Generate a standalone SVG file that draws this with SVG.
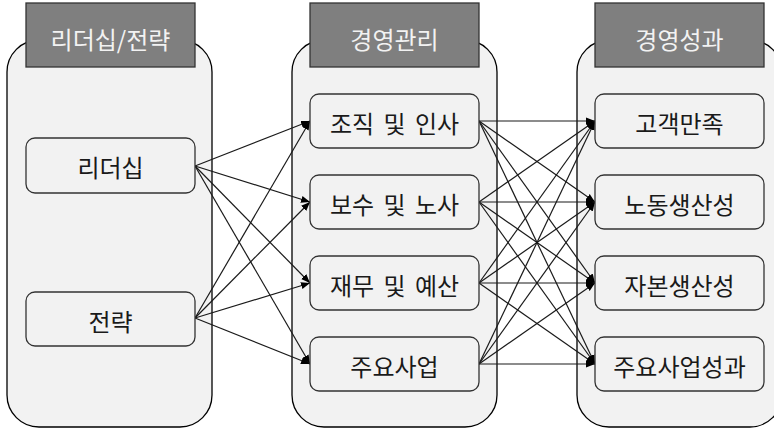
<svg xmlns="http://www.w3.org/2000/svg" width="774" height="430" viewBox="0 0 774 430">
<defs>
<marker id="ah" viewBox="0 0 10 10" refX="10" refY="5" markerWidth="9" markerHeight="9" markerUnits="userSpaceOnUse" orient="auto">
<path d="M0,1 L10,5 L0,9 z" fill="#000"/>
</marker>
<style>
.cont{fill:#f2f2f2;stroke:#000;stroke-width:1.3}
.hdr{fill:#7f7f7f;stroke:#333;stroke-width:1.3}
.htxt{font-family:"Noto Sans CJK KR","Noto Sans",sans-serif;font-size:24px;fill:#f2f2f2;text-anchor:middle;dominant-baseline:central}
.node{fill:#f2f2f2;stroke:#333;stroke-width:1.3}
.ntxt{font-family:"Noto Sans CJK KR","Noto Sans",sans-serif;font-size:24px;fill:#1a1a1a;text-anchor:middle;dominant-baseline:central;word-spacing:4px}
.edge{stroke:#1a1a1a;stroke-width:1.2;fill:none;marker-end:url(#ah)}
</style>
</defs>
<g id="col-left">
<rect class="cont" x="7" y="40" width="205" height="387" rx="32"/>
<rect class="hdr" x="26" y="3" width="169" height="64"/>
<text class="htxt" x="110.5" y="38">리더십/전략</text>
</g>
<g id="col-mid">
<rect class="cont" x="292" y="40" width="205" height="387" rx="32"/>
<rect class="hdr" x="310" y="3" width="169" height="64"/>
<text class="htxt" x="394.5" y="38">경영관리</text>
</g>
<g id="col-right">
<rect class="cont" x="577" y="40" width="205" height="387" rx="32"/>
<rect class="hdr" x="595" y="3" width="169" height="64"/>
<text class="htxt" x="679.5" y="38">경영성과</text>
</g>
<g id="connectors">
<path class="edge" d="M195,166 L310,121"/>
<path class="edge" d="M195,166 L310,202"/>
<path class="edge" d="M195,166 L310,283"/>
<path class="edge" d="M195,166 L310,364"/>
<path class="edge" d="M195,318 L310,121"/>
<path class="edge" d="M195,318 L310,202"/>
<path class="edge" d="M195,318 L310,283"/>
<path class="edge" d="M195,318 L310,364"/>
<path class="edge" d="M479,121 L595,121"/>
<path class="edge" d="M479,121 L595,202"/>
<path class="edge" d="M479,121 L595,283"/>
<path class="edge" d="M479,121 L595,364"/>
<path class="edge" d="M479,202 L595,121"/>
<path class="edge" d="M479,202 L595,202"/>
<path class="edge" d="M479,202 L595,283"/>
<path class="edge" d="M479,202 L595,364"/>
<path class="edge" d="M479,283 L595,121"/>
<path class="edge" d="M479,283 L595,202"/>
<path class="edge" d="M479,283 L595,283"/>
<path class="edge" d="M479,283 L595,364"/>
<path class="edge" d="M479,364 L595,121"/>
<path class="edge" d="M479,364 L595,202"/>
<path class="edge" d="M479,364 L595,283"/>
<path class="edge" d="M479,364 L595,364"/>
</g>
<g id="n-leadership"><rect class="node" x="26" y="138" width="169" height="55" rx="9"/><text class="ntxt" x="110.5" y="166">리더십</text></g>
<g id="n-strategy"><rect class="node" x="26" y="292" width="169" height="54" rx="9"/><text class="ntxt" x="110.5" y="320">전략</text></g>
<g id="n-org"><rect class="node" x="310" y="94" width="169" height="54" rx="9"/><text class="ntxt" x="394.5" y="122">조직 및 인사</text></g>
<g id="n-pay"><rect class="node" x="310" y="175" width="169" height="54" rx="9"/><text class="ntxt" x="394.5" y="203">보수 및 노사</text></g>
<g id="n-fin"><rect class="node" x="310" y="256" width="169" height="54" rx="9"/><text class="ntxt" x="394.5" y="284">재무 및 예산</text></g>
<g id="n-biz"><rect class="node" x="310" y="337" width="169" height="54" rx="9"/><text class="ntxt" x="394.5" y="365">주요사업</text></g>
<g id="n-cs"><rect class="node" x="595" y="94" width="169" height="54" rx="9"/><text class="ntxt" x="679.5" y="122">고객만족</text></g>
<g id="n-lp"><rect class="node" x="595" y="175" width="169" height="54" rx="9"/><text class="ntxt" x="679.5" y="203">노동생산성</text></g>
<g id="n-cp"><rect class="node" x="595" y="256" width="169" height="54" rx="9"/><text class="ntxt" x="679.5" y="284">자본생산성</text></g>
<g id="n-bp"><rect class="node" x="595" y="337" width="169" height="54" rx="9"/><text class="ntxt" x="679.5" y="365">주요사업성과</text></g>
</svg>
